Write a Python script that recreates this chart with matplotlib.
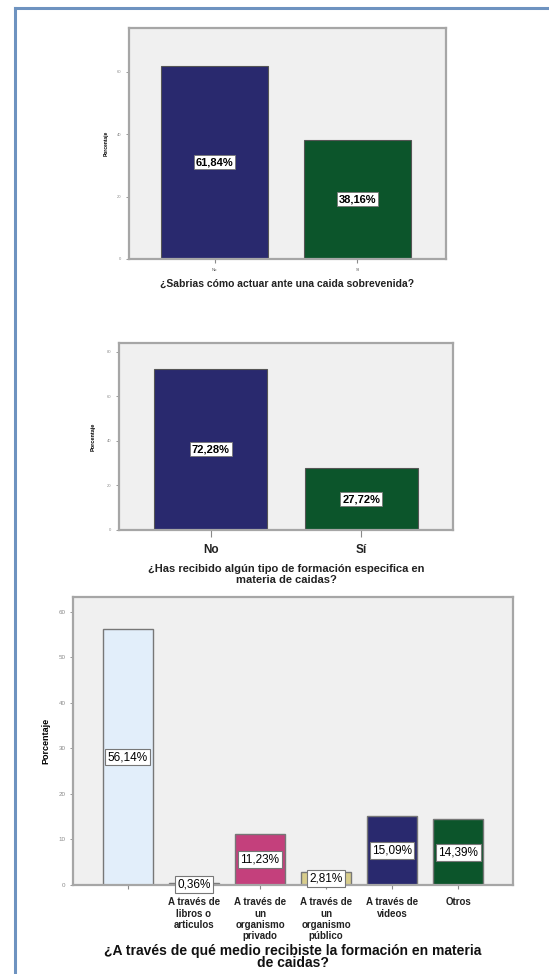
import matplotlib
matplotlib.use("Agg")
import matplotlib.pyplot as plt
from matplotlib.lines import Line2D

plt.rcParams['font.family'] = ['Liberation Sans', 'DejaVu Sans']

# --- datos ---
cat_actuar = ["No", "Sí"]
pct_actuar = [61.84, 38.16]

cat_formacion = ["No", "Sí"]
pct_formacion = [72.28, 27.72]

cat_medio = ["", "A través de\nlibros o\narticulos", "A través de\nun\norganismo\nprivado",
             "A través de\nun\norganismo\npúblico", "A través de\nvideos", "Otros"]
pct_medio = [56.14, 0.36, 11.23, 2.81, 15.09, 14.39]

NAVY = "#29296e"
GREEN = "#0c552b"
colores_medio = ["#e2eefa", "#f2f2f2", "#c4407c", "#d8cd8c", NAVY, GREEN]


def fmt(v):
    return f"{v:.2f}%".replace(".", ",")


def estilo(ax, ymax, yticks, tick_fs):
    ax.set_facecolor("#f0f0f0")
    for s in ax.spines.values():
        s.set_color("#a6a6a6")
        s.set_linewidth(1.6)
    ax.set_ylim(0, ymax)
    ax.set_yticks(yticks)
    ax.tick_params(axis="y", labelsize=tick_fs, colors="#8a8a8a", length=2, width=0.6)
    ax.tick_params(axis="x", colors="#8a8a8a", length=3, width=0.8)


fig = plt.figure(figsize=(5.49, 9.74), dpi=100)

# marco azul de la diapositiva
fig.add_artist(Line2D([15 / 549, 15 / 549], [0, 1 - 8 / 974], color="#6e93c0", lw=2.2,
                      transform=fig.transFigure))
fig.add_artist(Line2D([15 / 549, 1], [1 - 8 / 974, 1 - 8 / 974], color="#6e93c0", lw=2.2,
                      transform=fig.transFigure))

caja = dict(facecolor="white", edgecolor="#777777", lw=0.6, boxstyle="square,pad=0.18")

# --- panel 1 ---
ax1 = fig.add_axes([0.235, 0.7341, 0.577, 0.2372])
b1 = ax1.bar(range(2), pct_actuar, width=0.75, color=[NAVY, GREEN], edgecolor="#555555", lw=0.8)
ax1.set_xlim(-0.6, 1.62)
estilo(ax1, 74, [0, 20, 40, 60], 3)
ax1.set_xticks(range(2))
ax1.set_xticklabels(cat_actuar, fontsize=3, color="#555555")
ax1.bar_label(b1, labels=[fmt(v) for v in pct_actuar], label_type="center", fontsize=8,
              fontweight="bold", bbox=caja)
ax1.set_ylabel("Porcentaje", fontsize=3.5, fontweight="bold", labelpad=6)
ax1.set_xlabel("¿Sabrias cómo actuar ante una caida sobrevenida?", fontsize=7.5,
               fontweight="bold", color="#222222", labelpad=5)

# --- panel 2 ---
ax2 = fig.add_axes([0.2168, 0.4559, 0.6084, 0.192])
b2 = ax2.bar(range(2), pct_formacion, width=0.75, color=[NAVY, GREEN], edgecolor="#555555", lw=0.8)
ax2.set_xlim(-0.61, 1.61)
estilo(ax2, 84, [0, 20, 40, 60, 80], 3)
ax2.set_xticks(range(2))
ax2.set_xticklabels(cat_formacion, fontsize=8.5, fontweight="bold")
ax2.tick_params(axis="x", labelcolor="#222222", length=5, pad=5)
ax2.bar_label(b2, labels=[fmt(v) for v in pct_formacion], label_type="center", fontsize=8,
              fontweight="bold", bbox=caja)
ax2.set_ylabel("Porcentaje", fontsize=4, fontweight="bold", labelpad=8)
ax2.set_xlabel("¿Has recibido algún tipo de formación especifica en\nmateria de caidas?",
               fontsize=8, fontweight="bold", color="#222222", labelpad=6, linespacing=1.1)

# --- panel 3 ---
ax3 = fig.add_axes([0.133, 0.0914, 0.8015, 0.2957])
b3 = ax3.bar(range(6), pct_medio, width=0.76, color=colores_medio, edgecolor="#777777", lw=1.0)
ax3.set_xlim(-0.83, 5.83)
estilo(ax3, 63.2, [0, 10, 20, 30, 40, 50, 60], 4.5)
ax3.set_xticks(range(6))
ax3.set_xticklabels(cat_medio, fontsize=7, fontweight="bold", linespacing=1.15)
ax3.tick_params(axis="x", labelcolor="#222222", pad=6)
ax3.bar_label(b3, labels=[fmt(v) for v in pct_medio], label_type="center", fontsize=8.5,
              bbox=dict(facecolor="white", edgecolor="#777777", lw=0.8,
                        boxstyle="square,pad=0.2"))
ax3.set_ylabel("Porcentaje", fontsize=6.5, fontweight="bold", labelpad=6)
ax3.set_xlabel("¿A través de qué medio recibiste la formación en materia\nde caidas?",
               fontsize=10, fontweight="bold", color="#111111", labelpad=2, linespacing=0.8)

fig.savefig("out.png", dpi=100)
